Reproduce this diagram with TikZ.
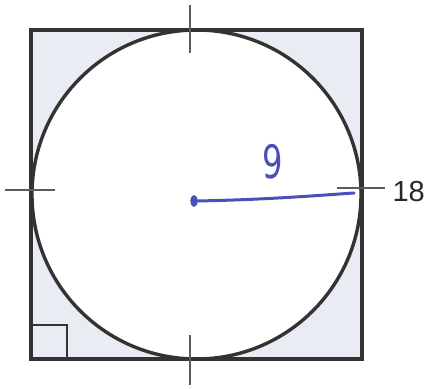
\documentclass[tikz,border=0pt]{standalone}
\usepackage{fontspec}
\setmainfont{Liberation Sans}
\newfontfamily\handfont{DejaVu Sans}
\definecolor{cornerfill}{HTML}{E9ECF3}
\definecolor{edge}{HTML}{333333}
\definecolor{ink}{HTML}{4B50B8}
\begin{document}
\begin{tikzpicture}[x=1pt,y=-1pt,
  outline/.style={draw=edge,line width=3.4pt},
  tick/.style={draw=edge!80,line width=1.4pt},
  handline/.style={draw=ink,line width=3pt,line cap=round}]
\useasboundingbox (0,0) rectangle (427,388);
% square with shaded corners
\fill[cornerfill] (31,30) rectangle (362,359);
\fill[white] (196.5,194.5) circle (164.5);
\draw[draw=edge,line width=1.2pt] (31,325) -- (67,325) -- (67,359);
\draw[outline] (31,30) rectangle (362,359);
\draw[outline] (196.5,194.5) circle (164.5);
% tick marks
\coordinate (tt1) at (190,5); \coordinate (tt2) at (190,53);
\coordinate (tb1) at (190,335); \coordinate (tb2) at (190,385);
\coordinate (tl1) at (5,190); \coordinate (tl2) at (55,190);
\coordinate (tr1) at (337,188); \coordinate (tr2) at (385,188);
\draw[tick] (tt1) -- (tt2);
\draw[tick] (tb1) -- (tb2);
\draw[tick] (tl1) -- (tl2);
\draw[tick] (tr1) -- (tr2);
\node[anchor=west,font=\fontsize{29}{29}\selectfont,text=black!85] (lab) at (389,192) {18};
% handwritten radius
\coordinate (c0) at (194,201);
\coordinate (c1) at (354,193);
\fill[ink] (c0) ellipse (3.6 and 6);
\draw[handline] (c0) .. controls (260,200) and (310,196) .. (c1);
\node[text=ink,font=\handfont\fontsize{46}{46}\selectfont,xscale=0.7,inner sep=0pt] (nine) at (273,162) {9};
\end{tikzpicture}
\end{document}
